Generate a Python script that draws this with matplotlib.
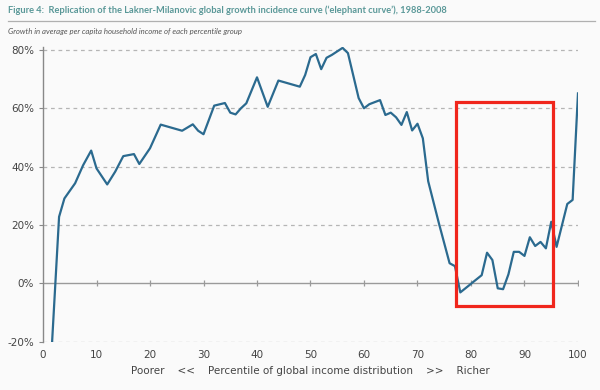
import matplotlib.pyplot as plt
from matplotlib.patches import Rectangle

# percentile of global income distribution and growth (%)
percentile = [1, 3, 4, 6, 7.5, 9, 10, 12, 13.5, 15, 17, 18, 20, 22, 26, 28, 29, 30,
              32, 34, 35, 36, 37, 38, 40, 42, 44, 48, 49, 50, 51, 52, 53, 54, 56, 57,
              59, 60, 61, 63, 64, 65, 66, 67, 68, 69, 70, 71, 72, 74, 76, 77, 78,
              79.5, 80.5, 82, 83, 84, 85, 86, 87, 88, 89, 90, 91, 92, 93, 94, 95,
              96, 98, 99, 100]
growth = [-43, 22.8, 29.1, 34.3, 40.5, 45.5, 39.4, 33.9, 38.3, 43.6, 44.3, 40.9, 46.3,
          54.4, 52.3, 54.5, 52.3, 51.1, 60.9, 61.8, 58.5, 57.9, 60.0, 61.7, 70.6, 60.5,
          69.5, 67.4, 71.4, 77.5, 78.6, 73.4, 77.3, 78.3, 80.7, 78.9, 63.5, 60.0, 61.4,
          62.8, 57.7, 58.5, 56.9, 54.3, 58.7, 52.4, 54.7, 49.7, 35.0, 20.6, 6.9, 5.9,
          -3.1, -0.9, 0.6, 2.8, 10.5, 8.0, -1.7, -2.0, 3.1, 10.8, 10.8, 9.4, 15.8, 12.8,
          14.2, 12.0, 21.1, 12.5, 27.2, 28.6, 65.1]

xticks = [0, 10, 20, 30, 40, 50, 60, 70, 80, 90, 100]
yticks = [-20, 0, 20, 40, 60, 80]

# highlighted box (percentile range, growth range)
box_x = (77.2, 95.4)
box_y = (-7.7, 62.3)

bg = '#fafafa'
fig = plt.figure(figsize=(6, 3.9), dpi=100, facecolor=bg)
ax = fig.add_axes([0.0717, 0.1238, 0.8916, 0.7557], facecolor=bg)

for v in yticks:
    if v == 0:
        ax.axhline(0, color='#9a9a9a', lw=1.0, zorder=1)
    else:
        ax.axhline(v, color='#b5b5b5', lw=0.9, ls=(0, (3, 3)), zorder=1)
# small tick marks on the zero line
ax.plot(xticks[1:], [0] * (len(xticks) - 1), ls='none', marker='|', ms=5,
        mew=0.9, color='#9a9a9a', zorder=1)

ax.plot(percentile, growth, color='#2b6a8f', lw=1.6, zorder=3)

ax.add_patch(Rectangle((box_x[0], box_y[0]), box_x[1] - box_x[0], box_y[1] - box_y[0],
                       fill=False, edgecolor='#f0261c', lw=2.3, zorder=4))

ax.set_xlim(0, 100)
ax.set_ylim(-20, 81)
ax.set_xticks(xticks)
ax.set_yticks(yticks)
ax.set_yticklabels([f'{v}%' for v in yticks])
ax.tick_params(axis='x', length=0, pad=6, labelsize=7.5, labelcolor='#444444')
ax.tick_params(axis='y', length=3, color='#888888', labelsize=7.5, labelcolor='#444444')
for s in ['top', 'right', 'bottom']:
    ax.spines[s].set_visible(False)
ax.spines['left'].set_color('#888888')
ax.spines['left'].set_linewidth(1.0)

ax.set_xlabel('Poorer    <<    Percentile of global income distribution    >>    Richer',
              fontsize=7.5, color='#444444', labelpad=4)

fig.text(0.013, 0.974, "Figure 4:  Replication of the Lakner-Milanovic global growth incidence "
         "curve (\u2018elephant curve\u2019), 1988-2008", fontsize=6.7, fontweight='bold',
         color='#5a9898', family='Lato', va='center')
fig.add_artist(plt.Line2D([0.013, 0.992], [0.946, 0.946], color='#b0b0b0', lw=0.9))
fig.text(0.013, 0.918, 'Growth in average per capita household income of each percentile group',
         fontsize=5.6, style='italic', color='#555555', family='Lato', va='center')

fig.savefig('out.png', dpi=100, facecolor=bg)
